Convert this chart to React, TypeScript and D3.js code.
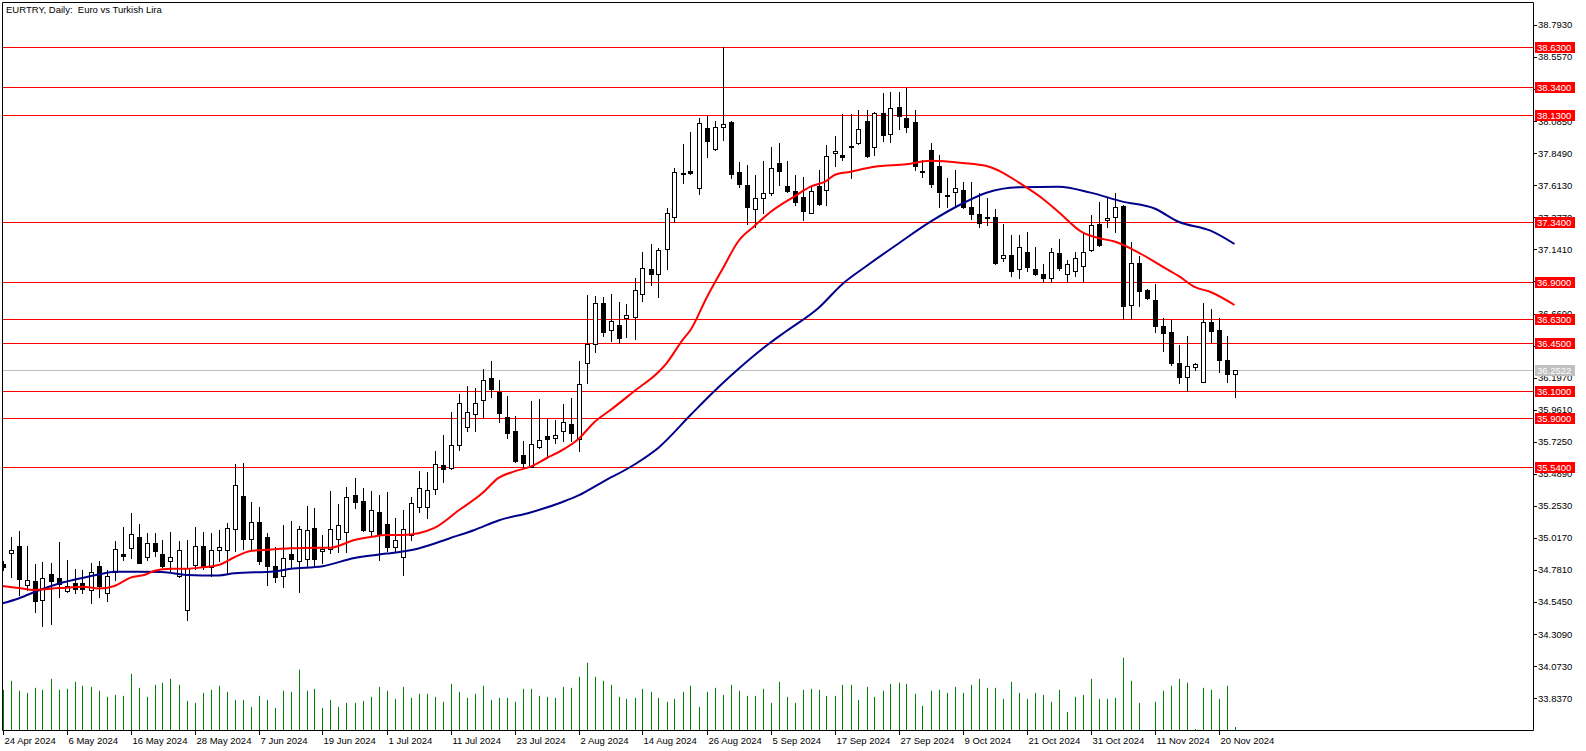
import React from 'react';
import * as d3 from 'd3';

const W = 1586;
const H = 751;

const title = 'EURTRY, Daily:  Euro vs Turkish Lira';

const opens = [34.826,34.905,34.958,34.669,34.701,34.559,34.752,34.721,34.625,34.684,34.684,34.634,34.811,34.610,34.767,34.899,34.941,35.025,34.875,34.980,34.899,34.848,34.735,34.485,34.821,34.958,34.801,34.927,34.927,35.081,35.326,35.012,35.135,35.025,34.811,34.735,34.899,34.846,34.865,35.091,34.919,34.934,35.012,35.059,35.334,35.289,35.071,35.208,35.120,34.949,34.875,35.039,35.248,35.243,35.376,35.554,35.530,35.699,35.832,35.928,36.031,36.193,36.094,35.906,35.805,35.628,35.542,35.685,35.768,35.751,35.802,35.854,35.744,36.303,36.445,36.745,36.548,36.585,36.634,36.641,36.811,36.997,36.962,37.142,37.378,37.696,37.718,37.591,38.033,37.878,38.044,38.081,37.709,37.615,37.437,37.517,37.559,37.779,37.608,37.571,37.527,37.411,37.610,37.581,37.851,37.836,37.897,37.922,38.086,37.897,38.143,37.988,38.187,38.106,38.077,37.718,37.873,37.755,37.542,37.566,37.579,37.456,37.402,37.380,37.378,37.076,37.098,36.995,37.120,36.997,36.958,36.929,37.113,36.960,36.984,37.021,37.137,37.328,37.355,37.378,37.461,36.732,37.039,36.842,36.769,36.577,36.531,36.303,36.204,36.278,36.168,36.605,36.548,36.327,36.222];
const highs = [34.848,35.027,35.071,34.958,34.826,34.841,34.833,34.990,34.855,34.791,34.782,34.835,34.850,34.782,34.995,35.100,35.201,35.122,35.056,35.052,35.000,35.061,34.995,35.002,35.098,35.059,35.056,35.076,35.130,35.562,35.569,35.282,35.243,35.054,34.951,35.111,35.142,35.103,35.253,35.236,35.039,35.363,35.267,35.393,35.459,35.385,35.363,35.334,35.356,35.162,35.223,35.319,35.510,35.503,35.657,35.775,35.945,36.077,36.136,36.121,36.259,36.320,36.180,36.062,35.915,35.731,36.025,36.040,35.895,35.886,36.003,36.045,36.322,36.806,36.800,36.793,36.813,36.756,36.739,36.929,37.122,37.181,37.149,37.444,37.738,37.917,38.008,38.106,38.123,38.089,38.633,38.085,37.782,37.763,37.689,37.792,37.893,37.922,37.792,37.689,37.674,37.608,37.726,37.910,37.976,38.136,38.136,38.167,38.167,38.150,38.292,38.300,38.300,38.331,38.167,37.799,37.922,37.836,37.665,37.726,37.635,37.635,37.554,37.517,37.439,37.328,37.247,37.247,37.267,37.157,37.034,37.149,37.216,37.063,37.124,37.260,37.394,37.488,37.529,37.554,37.465,37.198,37.093,36.847,36.887,36.634,36.622,36.438,36.504,36.303,36.745,36.703,36.634,36.504,36.2522];
const lows = [34.782,34.732,34.598,34.634,34.475,34.372,34.384,34.581,34.620,34.612,34.610,34.536,34.585,34.556,34.708,34.853,34.872,34.831,34.857,34.882,34.806,34.776,34.730,34.411,34.787,34.787,34.740,34.845,34.752,34.924,34.934,34.936,34.824,34.673,34.696,34.659,34.806,34.622,34.806,34.811,34.831,34.908,34.914,34.912,35.236,35.069,35.039,34.857,34.924,34.924,34.745,35.002,35.211,35.162,35.341,35.432,35.527,35.665,35.807,35.807,35.898,36.057,35.873,35.755,35.579,35.542,35.538,35.677,35.616,35.719,35.731,35.731,35.660,36.156,36.388,36.504,36.467,36.452,36.499,36.480,36.764,36.879,36.789,36.997,37.345,37.632,37.696,37.549,37.819,37.870,37.947,37.665,37.603,37.328,37.308,37.411,37.542,37.615,37.562,37.468,37.358,37.409,37.468,37.468,37.755,37.799,37.665,37.918,37.821,37.836,37.939,37.934,38.028,38.008,37.726,37.676,37.601,37.456,37.456,37.456,37.444,37.365,37.308,37.321,37.035,37.058,36.948,36.933,36.984,36.955,36.904,36.904,36.990,36.904,36.948,36.904,37.133,37.168,37.308,37.272,36.627,36.627,36.727,36.776,36.536,36.393,36.290,36.156,36.101,36.254,36.164,36.462,36.241,36.168,36.057];
const closes = [34.804,34.929,34.713,34.708,34.556,34.721,34.703,34.679,34.664,34.644,34.640,34.765,34.664,34.735,34.934,34.887,35.044,34.835,34.978,34.919,34.813,34.875,34.927,34.794,34.958,34.811,34.927,34.949,35.088,35.407,35.012,35.133,34.846,34.809,34.732,34.868,34.865,35.081,35.076,34.865,34.936,35.081,35.111,35.319,35.284,35.076,35.223,35.039,34.953,35.000,35.081,35.272,35.383,35.368,35.562,35.523,35.699,36.009,35.942,36.009,36.178,36.116,35.939,35.792,35.586,35.567,35.707,35.738,35.748,35.773,35.871,35.788,36.148,36.443,36.745,36.533,36.614,36.487,36.658,36.842,37.002,36.962,37.137,37.409,37.709,37.706,37.706,38.069,37.941,38.040,38.062,37.694,37.620,37.456,37.517,37.554,37.738,37.721,37.571,37.492,37.424,37.571,37.478,37.829,37.862,37.819,37.905,38.028,37.831,38.143,37.983,38.180,38.123,38.044,37.757,37.711,37.620,37.566,37.534,37.591,37.451,37.402,37.338,37.372,37.039,37.098,36.984,37.157,37.010,36.958,36.929,37.120,37.002,37.032,37.076,37.120,37.319,37.174,37.375,37.456,36.727,37.039,36.837,36.786,36.580,36.528,36.303,36.204,36.281,36.296,36.605,36.543,36.327,36.222,36.2522];
const volumes = [40,49,39,37,42,40,51,40,41,48,44,43,39,33,35,34,56,42,33,45,47,51,45,29,27,37,40,44,38,30,30,23,34,30,22,39,38,60,39,41,22,30,23,27,27,29,33,43,39,31,43,32,36,36,33,28,46,38,32,36,44,30,32,32,28,41,41,34,33,32,43,42,53,67,53,49,45,33,31,32,41,38,32,28,31,38,44,23,38,42,35,45,39,34,34,41,27,48,33,27,40,41,40,34,34,45,45,30,43,33,39,46,47,46,36,24,39,40,37,43,37,45,51,42,42,31,48,37,31,37,35,28,40,18,33,35,51,31,31,32,72,49,27,0,28,39,44,51,47,1,42,40,31,44,3];

const ma20Bars = [0,2,4,6,8,10,12,14,16,18,19,21,23,25,27,29,31,34,36,39,41,44,46,48,50,52,54,57,60,62,64,66,68,70,72,74,76,79,82,83,85,86,88,90,92,94,96,99,101,103,104,106,109,113,116,120,123,125,127,130,132,135,137,139,142,145,147,149,151,154];
const ma20Values = [34.664,34.649,34.634,34.644,34.651,34.659,34.645,34.664,34.725,34.750,34.776,34.791,34.791,34.801,34.818,34.875,34.921,34.934,34.941,34.946,34.946,35.002,35.024,35.039,35.039,35.052,35.091,35.219,35.348,35.459,35.507,35.542,35.604,35.665,35.746,35.871,35.959,36.099,36.239,36.303,36.474,36.548,36.784,36.997,37.203,37.314,37.417,37.532,37.603,37.645,37.689,37.713,37.749,37.768,37.794,37.778,37.755,37.707,37.635,37.516,37.417,37.266,37.225,37.199,37.118,37.015,36.946,36.865,36.828,36.732];

const ma50Bars = [0,2,5,7,10,12,14,17,20,23,27,29,34,36,40,44,48,50,52,56,59,62,66,70,72,75,79,82,86,89,91,96,98,102,105,108,112,116,120,123,127,132,136,140,144,147,151,154];
const ma50Values = [34.536,34.572,34.642,34.680,34.723,34.748,34.769,34.769,34.767,34.745,34.741,34.757,34.771,34.790,34.809,34.870,34.902,34.918,34.940,35.017,35.076,35.146,35.205,35.282,35.330,35.429,35.558,35.682,35.922,36.099,36.209,36.456,36.541,36.710,36.887,37.019,37.185,37.345,37.479,37.558,37.598,37.602,37.559,37.493,37.442,37.345,37.279,37.181];

const levels = [38.63, 38.34, 38.13, 37.34, 36.9, 36.63, 36.45, 36.1, 35.9, 35.54];
const lastPrice = 36.2522;

const priceTicks = [33.837,34.073,34.309,34.545,34.781,35.017,35.253,35.489,35.725,35.961,36.197,36.433,36.669,36.905,37.141,37.377,37.613,37.849,38.085,38.321,38.557,38.793];

const dateLabelBars = [0,8,16,24,32,40,48,56,64,72,80,88,96,104,112,120,128,136,144,152];
const dateLabels = ['24 Apr 2024','6 May 2024','16 May 2024','28 May 2024','7 Jun 2024','19 Jun 2024','1 Jul 2024','11 Jul 2024','23 Jul 2024','2 Aug 2024','14 Aug 2024','26 Aug 2024','5 Sep 2024','17 Sep 2024','27 Sep 2024','9 Oct 2024','21 Oct 2024','31 Oct 2024','11 Nov 2024','20 Nov 2024'];

const FONT = '"Liberation Sans", Arial, sans-serif';

export default function App() {
  const left = 2, top = 2, right = 1533, bottom = 730;
  const x = d3.scaleLinear().domain([0, opens.length - 1]).range([2.5, 2.5 + 8 * (opens.length - 1)]);
  const y = d3.scaleLinear().domain([33.837, 38.793]).range([698.3, 25]);
  const yv = d3.scaleLinear().domain([0, d3.max(volumes) as number]).range([bottom, 657.7]);
  const snap = (v: number) => Math.round(v) + 0.5;

  const line = d3.line<[number, number]>().x(d => x(d[0])).y(d => y(d[1])).curve(d3.curveMonotoneX);
  const ma20Path = line(ma20Bars.map((b, i) => [b, ma20Values[i]] as [number, number])) || '';
  const ma50Path = line(ma50Bars.map((b, i) => [b, ma50Values[i]] as [number, number])) || '';

  return (
    <svg width={W} height={H} style={{ position: 'absolute', left: 0, top: 0, background: '#fff' }} fontFamily={FONT}>
      <defs>
        <clipPath id="plot">
          <rect x={left} y={top} width={right - left} height={bottom - top} />
        </clipPath>
      </defs>
      <rect x={0} y={0} width={W} height={H} fill="#fff" />
      <g clipPath="url(#plot)">
        {volumes.map((v, i) => v > 0 ? (
          <line key={'v' + i} x1={snap(x(i))} x2={snap(x(i))} y1={bottom} y2={yv(v)} stroke="#008000" strokeWidth={1} />
        ) : null)}
        {levels.map((l, i) => (
          <line key={'l' + i} x1={left} x2={right} y1={snap(y(l))} y2={snap(y(l))} stroke="#ff0000" strokeWidth={1} />
        ))}
        <line x1={left} x2={right} y1={snap(y(lastPrice))} y2={snap(y(lastPrice))} stroke="#c0c0c0" strokeWidth={1} />
        {opens.map((o, i) => {
          const c = closes[i];
          const cx = snap(x(i));
          const yT = Math.round(y(Math.max(o, c))) + 0.5;
          const yB = Math.round(y(Math.min(o, c))) + 0.5;
          const bull = c >= o;
          return (
            <g key={'c' + i}>
              <line x1={cx} x2={cx} y1={Math.round(y(highs[i]))} y2={Math.round(y(lows[i])) + 1} stroke="#000" strokeWidth={1} />
              <rect x={cx - 2} y={yT} width={4} height={Math.max(0, yB - yT)} fill={bull ? '#fff' : '#000'} stroke="#000" strokeWidth={1} />
            </g>
          );
        })}
        <path d={ma50Path} fill="none" stroke="#00008b" strokeWidth={2} />
        <path d={ma20Path} fill="none" stroke="#ff0000" strokeWidth={2} />
      </g>
      {/* frame */}
      <path d={`M${left + 0.5},${top + 0.5}H${right + 0.5}V${bottom + 0.5}H${left + 0.5}Z`} fill="none" stroke="#000" strokeWidth={1} />
      {/* title */}
      <text x={6} y={13} fontSize={9.5} fill="#000" style={{ whiteSpace: 'pre' }}>{title}</text>
      {/* price axis */}
      {priceTicks.map((t, i) => (
        <g key={'t' + i}>
          <line x1={right} x2={right + 4} y1={snap(y(t))} y2={snap(y(t))} stroke="#000" strokeWidth={1} />
          <text x={right + 5} y={y(t)} dy="0.35em" fontSize={9.5} fill="#000">{t.toFixed(4)}</text>
        </g>
      ))}
      {levels.map((l, i) => (
        <g key={'ll' + i}>
          <rect x={1535} y={Math.round(y(l)) - 5} width={40} height={11} fill="#ff0000" />
          <text x={1537} y={Math.round(y(l)) + 0.5} dy="0.35em" fontSize={9.5} fill="#fff">{l.toFixed(4)}</text>
        </g>
      ))}
      <g>
        <rect x={1535} y={Math.round(y(lastPrice)) - 5} width={40} height={11} fill="#c0c0c0" />
        <text x={1537} y={Math.round(y(lastPrice)) + 0.5} dy="0.35em" fontSize={9.5} fill="#fff">{lastPrice.toFixed(4)}</text>
      </g>
      {/* date axis */}
      {dateLabelBars.map((b, i) => (
        <g key={'d' + i}>
          <line x1={snap(x(b))} x2={snap(x(b))} y1={bottom} y2={bottom + 5} stroke="#000" strokeWidth={1} />
          <text x={snap(x(b)) + 1} y={744} fontSize={9.5} fill="#000">{dateLabels[i]}</text>
        </g>
      ))}
    </svg>
  );
}
